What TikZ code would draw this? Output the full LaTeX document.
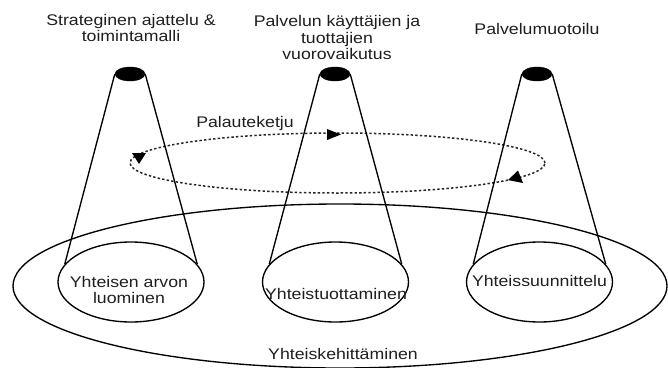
\documentclass[tikz,border=0pt]{standalone}
\usepackage{fontspec}
\setmainfont{Liberation Sans}[FakeStretch=1.15]
\usetikzlibrary{shapes.geometric}
\begin{document}
\begin{tikzpicture}[x=1pt,y=-1pt,
  lbl/.style={font=\fontsize{15.4}{16.7}\selectfont, align=center, inner sep=0pt, text=black!88},
  disc/.style={ellipse, fill=black, draw=black, minimum width=30pt, minimum height=14pt, inner sep=0pt},
  base/.style={ellipse, draw=black, line width=1.35pt, minimum width=146pt, minimum height=80pt, inner sep=0pt},
  outer/.style={ellipse, draw=black, line width=1.35pt, minimum width=654pt, minimum height=164pt, inner sep=0pt},
  loopline/.style={ellipse, draw=black!85, line width=1.5pt, dash pattern=on 2.4pt off 2.2pt, minimum width=415pt, minimum height=60pt, inner sep=0pt},
  cone/.style={draw=black, line width=1.35pt},
  head/.style={fill=black}]
\useasboundingbox (0,0) rectangle (668,367);
\fill[white] (0,0) rectangle (668,367);

% outer ellipse
\node[outer] (all) at (340,286) {};

% feedback loop
\node[loopline] (loop) at (337.5,163) {};
\fill[head] (327,129) -- (327,140) -- (341,134.5) -- cycle;
\fill[head] (508,180) -- (518,170.5) -- (523,183) -- cycle;
\fill[head] (132,153) -- (146,153) -- (139,164) -- cycle;

% top discs
\node[disc] (d1) at (130,74) {};
\node[disc] (d2) at (335,74) {};
\node[disc] (d3) at (537,74) {};

% base ellipses
\node[base] (b1) at (131,282) {};
\node[base] (b2) at (335.5,282) {};
\node[base] (b3) at (539.5,282) {};

% cones
\draw[cone] (d1.west) -- (b1.165);
\draw[cone] (d1.east) -- (b1.15);
\draw[cone] (d2.west) -- (b2.165);
\draw[cone] (d2.east) -- (b2.15);
\draw[cone] (d3.west) -- (b3.165);
\draw[cone] (d3.east) -- (b3.15);

% labels
\node[lbl] (t1) at (131,28) {Strateginen ajattelu \&\\toimintamalli};
\node[lbl] (t2) at (337,37.5) {Palvelun käyttäjien ja\\tuottajien\\vuorovaikutus};
\node[lbl] (t3) at (537,29) {Palvelumuotoilu};
\node[lbl] (fb) at (245,124) {Palauteketju};
\node[lbl] (l1) at (129,290) {Yhteisen arvon\\luominen};
\node[lbl] (l2) at (336,294) {Yhteistuottaminen};
\node[lbl] (l3) at (539.5,281) {Yhteissuunnittelu};
\node[lbl] (l4) at (343,354) {Yhteiskehittäminen};
\end{tikzpicture}
\end{document}
